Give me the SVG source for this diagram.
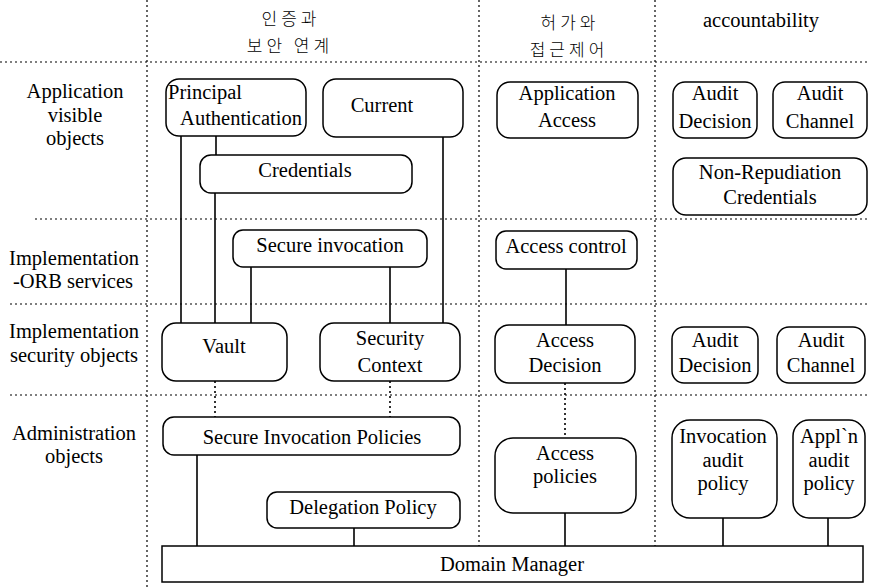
<svg xmlns="http://www.w3.org/2000/svg" width="870" height="587" viewBox="0 0 870 587">
<style>
text{font-family:"Liberation Serif","Times New Roman","DejaVu Serif",serif;font-size:20.5px;fill:#000;text-anchor:middle}
text.ko{font-family:"Noto Sans CJK KR",sans-serif;font-size:17px;font-weight:300;letter-spacing:4px}
.box{fill:#fff;stroke:#000;stroke-width:1.5}
.grid{stroke:#000;stroke-width:1.2;stroke-dasharray:2 3;fill:none}
.conn{stroke:#000;stroke-width:1.6;fill:none}
.dconn{stroke:#000;stroke-width:1.6;stroke-dasharray:2 3;fill:none}
</style>
<rect width="870" height="587" fill="#fff"/>
<g id="grid">
<line class="grid" x1="147" y1="0" x2="147" y2="587"/>
<line class="grid" x1="479" y1="0" x2="479" y2="546"/>
<line class="grid" x1="655" y1="0" x2="655" y2="546"/>
<line class="grid" x1="0" y1="62" x2="870" y2="62"/>
<line class="grid" x1="35" y1="219" x2="870" y2="219"/>
<line class="grid" x1="10" y1="304" x2="870" y2="304"/>
<line class="grid" x1="10" y1="395" x2="870" y2="395"/>
</g>
<g id="headers">
<text class="ko" x="291" y="25">인증과</text>
<text class="ko" x="290" y="52">보안 연계</text>
<text class="ko" x="570" y="29">허가와</text>
<text class="ko" x="569" y="56">접근제어</text>
<text x="761" y="27">accountability</text>
</g>
<g id="row-labels">
<text x="75" y="98">Application</text>
<text x="75" y="122">visible</text>
<text x="75" y="145">objects</text>
<text x="74" y="265">Implementation</text>
<text x="73" y="288">-ORB services</text>
<text x="74" y="338">Implementation</text>
<text x="74" y="362">security objects</text>
<text x="74" y="440">Administration</text>
<text x="74" y="463">objects</text>
</g>
<g id="connectors">
<line class="conn" x1="181" y1="136" x2="181" y2="323"/>
<line class="conn" x1="216" y1="136" x2="216" y2="155"/>
<line class="conn" x1="215" y1="193" x2="215" y2="323"/>
<line class="conn" x1="443" y1="137" x2="443" y2="323"/>
<line class="conn" x1="251" y1="267" x2="251" y2="323"/>
<line class="conn" x1="390" y1="267" x2="390" y2="323"/>
<line class="conn" x1="566" y1="269" x2="566" y2="325"/>
<line class="dconn" x1="215" y1="381" x2="215" y2="417"/>
<line class="dconn" x1="390" y1="381" x2="390" y2="417"/>
<line class="dconn" x1="565" y1="383" x2="565" y2="438"/>
<line class="conn" x1="197" y1="455" x2="197" y2="546"/>
<line class="conn" x1="354" y1="528" x2="354" y2="546"/>
<line class="conn" x1="565" y1="513" x2="565" y2="546"/>
<line class="conn" x1="723" y1="518" x2="723" y2="546"/>
<line class="conn" x1="828" y1="518" x2="828" y2="546"/>
</g>
<g id="principal-authentication">
<rect class="box" x="166" y="79" width="140" height="57" rx="13"/>
<text x="168" y="99" style="text-anchor:start">Principal</text>
<text x="241" y="125">Authentication</text>
</g>
<g id="current">
<rect class="box" x="323" y="79" width="140" height="58" rx="13"/>
<text x="382" y="112">Current</text>
</g>
<g id="credentials">
<rect class="box" x="200" y="155" width="212" height="38" rx="11"/>
<text x="305" y="177">Credentials</text>
</g>
<g id="application-access">
<rect class="box" x="497" y="82" width="141" height="56" rx="13"/>
<text x="567" y="100">Application</text>
<text x="567" y="127">Access</text>
</g>
<g id="audit-decision-top">
<rect class="box" x="673" y="82" width="84" height="56" rx="12"/>
<text x="715" y="100">Audit</text>
<text x="715" y="128">Decision</text>
</g>
<g id="audit-channel-top">
<rect class="box" x="773" y="82" width="94" height="56" rx="12"/>
<text x="820" y="100">Audit</text>
<text x="820" y="128">Channel</text>
</g>
<g id="non-repudiation-credentials">
<rect class="box" x="673" y="158" width="194" height="57" rx="13"/>
<text x="770" y="179">Non-Repudiation</text>
<text x="770" y="204">Credentials</text>
</g>
<g id="secure-invocation">
<rect class="box" x="233" y="230" width="194" height="37" rx="10"/>
<text x="330" y="252">Secure invocation</text>
</g>
<g id="access-control">
<rect class="box" x="496" y="231" width="141" height="38" rx="10"/>
<text x="566" y="253">Access control</text>
</g>
<g id="vault">
<rect class="box" x="162" y="323" width="125" height="58" rx="14"/>
<text x="224" y="353">Vault</text>
</g>
<g id="security-context">
<rect class="box" x="320" y="323" width="140" height="58" rx="14"/>
<text x="390" y="345">Security</text>
<text x="390" y="372">Context</text>
</g>
<g id="access-decision">
<rect class="box" x="495" y="325" width="140" height="58" rx="14"/>
<text x="565" y="347">Access</text>
<text x="565" y="372">Decision</text>
</g>
<g id="audit-decision-low">
<rect class="box" x="672" y="327" width="86" height="56" rx="12"/>
<text x="715" y="347">Audit</text>
<text x="715" y="372">Decision</text>
</g>
<g id="audit-channel-low">
<rect class="box" x="777" y="327" width="88" height="56" rx="12"/>
<text x="821" y="347">Audit</text>
<text x="821" y="372">Channel</text>
</g>
<g id="secure-invocation-policies">
<rect class="box" x="163" y="417" width="297" height="38" rx="11"/>
<text x="312" y="444">Secure Invocation Policies</text>
</g>
<g id="delegation-policy">
<rect class="box" x="267" y="492" width="193" height="36" rx="10"/>
<text x="363" y="514">Delegation Policy</text>
</g>
<g id="access-policies">
<rect class="box" x="495" y="438" width="141" height="75" rx="18"/>
<text x="565" y="460">Access</text>
<text x="565" y="483">policies</text>
</g>
<g id="invocation-audit-policy">
<rect class="box" x="672" y="420" width="105" height="98" rx="18"/>
<text x="723" y="443">Invocation</text>
<text x="723" y="467">audit</text>
<text x="723" y="490">policy</text>
</g>
<g id="appln-audit-policy">
<rect class="box" x="793" y="420" width="72" height="98" rx="16"/>
<text x="829" y="443">Appl`n</text>
<text x="829" y="467">audit</text>
<text x="829" y="490">policy</text>
</g>
<g id="domain-manager">
<rect class="box" x="162" y="546" width="701" height="36"/>
<text x="512" y="571">Domain Manager</text>
</g>
</svg>
